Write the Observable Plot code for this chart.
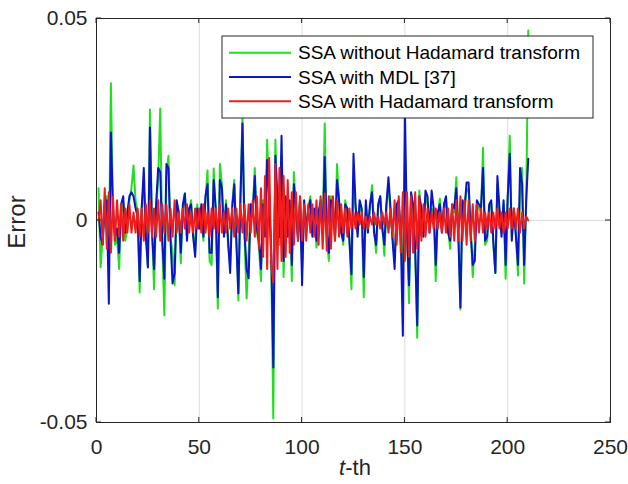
<!DOCTYPE html>
<html><head><meta charset="utf-8">
<script src="https://cdn.jsdelivr.net/npm/d3@7"></script>
<script src="https://cdn.jsdelivr.net/npm/@observablehq/plot@0.6"></script>
<style>body{margin:0;background:#fff}#chart{width:628px;height:484px}</style>
</head><body><div id="chart"></div>
<script>
const seriesNames = ["SSA without Hadamard transform", "SSA with MDL [37]", "SSA with Hadamard transform"];
const seriesColors = ["#22dd22", "#0a14c8", "#ee1c1c"];

// Error values for t = 1..210
const greenErr = [
 .008,-.0116,-.004,.003,.006,-.010,.034,.002,-.006,-.004,
 -.012,.002,.004,-.005,-.002,.005,.008,.0136,.005,.002,
 -.0178,.004,.009,-.003,-.0116,.0275,-.002,-.017,.003,.010,
 .0277,-.006,-.0235,.011,.016,-.004,-.008,-.016,.004,.002,
 -.0106,.003,.0067,-.004,.002,.005,-.003,-.007,.004,-.002,
 .003,-.005,.005,.0124,-.010,-.011,.0129,.002,-.0218,.014,
 .009,-.003,.005,-.006,-.011,.004,.010,-.004,-.0198,.006,
 .026,-.004,-.0193,-.008,.004,.003,.013,-.003,-.006,-.015,
 .005,-.003,.020,.006,-.010,-.049,.020,.004,-.006,.012,
 -.014,.005,-.003,.004,-.015,.012,.002,-.004,.006,-.012,
 .004,-.002,.003,.006,-.003,.002,-.0067,.001,.004,-.003,
 .024,-.004,-.010,.006,.003,-.005,.014,.004,-.002,-.006,
 .005,.002,-.004,-.017,.010,.003,-.003,.004,.002,-.019,
 .004,-.002,.003,.0087,-.002,-.008,.003,.006,-.001,-.0087,
 .003,.009,.002,-.004,-.010,.003,.004,-.003,-.012,.014,
 -.002,-.0205,.006,.003,-.008,-.029,.0074,.002,-.003,.006,
 .004,-.002,.003,.002,-.015,.001,.0054,-.002,.003,.005,
 -.002,-.007,.003,.002,.0107,-.003,-.022,.004,.002,.008,
 .007,-.002,-.014,-.006,.004,.003,.002,.018,-.006,-.005,
 .003,.004,-.006,-.013,.009,.002,-.003,.004,-.0144,.005,
 .021,-.004,.002,-.003,-.0136,.006,.013,-.0156,.004,.047
];
const blueErr = [
 .002,-.004,-.006,.004,.005,-.0206,.0218,.003,-.004,-.002,
 -.008,.004,.006,-.003,.002,.006,.007,.006,.003,.001,
 -.015,.003,.013,-.004,-.0116,.023,-.003,-.012,.004,.013,
 .012,-.005,-.0144,.014,.013,-.005,-.0156,-.013,.005,.002,
 -.008,.004,.0067,-.005,.003,.004,-.004,-.009,.003,-.002,
 .004,-.004,.006,.009,-.008,-.008,.010,.003,-.019,.010,
 .008,-.004,.004,-.005,-.013,.003,.009,-.005,-.018,.005,
 .024,-.003,-.012,-.0143,.004,.002,.011,-.002,-.005,-.012,
 .004,-.004,.015,.005,-.008,-.0364,.016,.005,-.004,.021,
 -.010,.006,-.004,.005,-.011,.009,.003,-.005,.005,-.016,
 .005,-.003,.003,.005,-.004,.003,-.005,.002,.005,-.004,
 .0157,-.003,-.008,.005,.004,-.004,.010,.005,-.003,-.005,
 .004,.003,-.005,-.0133,.0165,.004,-.004,.005,.003,-.014,
 .005,-.003,.004,.007,-.003,-.006,.004,.006,-.002,-.006,
 .004,.0107,.003,-.005,-.012,.004,.005,-.004,-.0285,.028,
 -.003,-.016,.007,.004,-.007,-.026,.006,.003,-.004,.0074,
 .006,-.003,.0074,.003,-.011,.002,.004,-.003,.004,.006,
 -.003,-.005,.004,.003,.008,-.004,-.0215,.005,.003,.0094,
 .0094,-.003,-.011,-.010,.005,.004,.003,.013,-.005,-.004,
 .004,.005,-.005,-.013,.011,.003,-.004,.005,-.011,.006,
 .0165,-.005,.003,-.004,-.011,.013,.009,-.011,.005,.0153
];
const redErr = [
 .000,.005,-.006,.008,-.007,.007,-.008,.006,-.005,.005,
 -.004,.004,-.005,.003,-.003,.004,-.003,.002,-.003,.003,
 -.004,.003,-.005,.004,-.003,.005,-.004,.003,-.004,.005,
 -.005,.004,-.003,.004,-.005,.003,-.004,.005,-.003,.002,
 -.003,.003,-.002,.004,-.003,.002,-.003,.003,-.002,.003,
 -.003,.004,-.003,.002,-.004,.003,-.002,.003,-.003,.004,
 -.003,.002,-.003,.003,-.002,.003,-.004,.003,-.003,.004,
 -.003,.004,-.005,.004,-.003,.005,-.004,.006,-.007,.008,
 -.009,.011,-.012,.0155,-.011,-.0153,.014,-.012,.013,-.010,
 .011,-.009,.010,-.008,.007,-.006,.007,-.005,.006,-.005,
 .004,-.005,.004,-.003,.004,-.004,.005,-.006,.006,-.007,
 .0067,-.0075,.006,-.007,.006,-.005,.005,-.004,.004,-.003,
 .003,-.004,.003,-.002,.002,-.002,.002,-.001,.002,-.002,
 .001,-.002,.001,-.001,.002,-.001,.001,-.002,.002,-.001,
 .002,-.003,.003,-.004,.005,-.006,.006,-.008,.007,-.010,
 .007,-.009,.006,-.008,.007,-.007,.006,-.005,.004,-.004,
 .003,-.003,.002,-.002,.003,-.002,.002,-.003,.003,-.003,
 .003,-.004,.004,-.005,.005,-.005,.006,-.005,.005,-.006,
 .005,-.005,.004,-.005,.004,-.003,.003,-.003,.002,-.002,
 .002,-.003,.002,-.002,.003,-.002,.002,-.003,.002,-.002,
 .003,-.002,.003,-.002,.003,-.003,.002,-.002,.001,.000
];
const xTicks = [0, 50, 100, 150, 200, 250];
const xTickLabels = ["0", "50", "100", "150", "200", "250"];
const yTicks = [-0.05, 0, 0.05];
const yTickLabels = ["-0.05", "0", "0.05"];

const FONT = '"Liberation Sans", Arial, Helvetica, sans-serif';
const INK = "#262626";
const rows = (arr) => arr.map((v, i) => ({t: i + 1, v}));

const chart = Plot.plot({
  width: 628, height: 484,
  marginLeft: 96, marginRight: 18, marginTop: 18, marginBottom: 62,
  style: {fontFamily: FONT, background: "#fff", color: INK},
  x: {domain: [xTicks[0], xTicks[xTicks.length - 1]]},
  y: {domain: [yTicks[0], yTicks[yTicks.length - 1]]},
  marks: [
    Plot.gridX(xTicks.slice(1, -1), {stroke: "#dcdcdc", strokeOpacity: 1}),
    Plot.gridY([0], {stroke: "#dcdcdc", strokeOpacity: 1}),
    Plot.line(rows(greenErr), {x: "t", y: "v", stroke: seriesColors[0], strokeWidth: 2}),
    Plot.line(rows(blueErr), {x: "t", y: "v", stroke: seriesColors[1], strokeWidth: 2}),
    Plot.line(rows(redErr), {x: "t", y: "v", stroke: seriesColors[2], strokeWidth: 2}),
    Plot.frame({stroke: INK, strokeWidth: 1}),
    Plot.axisX(xTicks, {tickSize: 0, tickPadding: 17, fontSize: 21, label: null,
      tickFormat: d => xTickLabels[xTicks.indexOf(d)]}),
    Plot.axisY(yTicks, {tickSize: 0, tickPadding: 9, fontSize: 21, label: null,
      tickFormat: d => yTickLabels[yTicks.indexOf(d)]})
  ]
});

const svg = d3.select(chart);
const sx = chart.scale("x"), sy = chart.scale("y");
const X = v => sx.apply(v), Y = v => sy.apply(v);
const xl = X(xTicks[0]), xr = X(xTicks[xTicks.length - 1]);
const yb = Y(yTicks[0]), yt = Y(yTicks[yTicks.length - 1]);
const TL = 5;
const tg = svg.append("g").attr("stroke", INK).attr("stroke-width", 1);
for (const v of xTicks) {
  tg.append("line").attr("x1", X(v)).attr("x2", X(v)).attr("y1", yb).attr("y2", yb - TL);
  tg.append("line").attr("x1", X(v)).attr("x2", X(v)).attr("y1", yt).attr("y2", yt + TL);
}
for (const v of yTicks) {
  tg.append("line").attr("y1", Y(v)).attr("y2", Y(v)).attr("x1", xl).attr("x2", xl + TL);
  tg.append("line").attr("y1", Y(v)).attr("y2", Y(v)).attr("x1", xr).attr("x2", xr - TL);
}

// axis titles
svg.append("text")
  .attr("transform", `translate(25,${(yb + yt) / 2 + 2}) rotate(-90)`)
  .attr("text-anchor", "middle").attr("font-size", 24).attr("fill", INK)
  .attr("font-family", FONT).text("Error");
const xt = svg.append("text")
  .attr("x", (xl + xr) / 2 + 2).attr("y", 475)
  .attr("text-anchor", "middle").attr("font-size", 22).attr("fill", INK)
  .attr("font-family", FONT);
xt.append("tspan").attr("font-style", "italic").text("t");
xt.append("tspan").text("-th");

// legend
const lg = svg.append("g").attr("font-family", FONT).attr("text-anchor", "start");
lg.append("rect").attr("x", 222).attr("y", 36).attr("width", 371).attr("height", 82)
  .attr("fill", "#ffffff").style("fill", "#ffffff").attr("fill-opacity", 1)
  .attr("stroke", INK).attr("stroke-width", 1);
seriesNames.forEach((n, i) => {
  const cy = 52.7 + 24.3 * i;
  lg.append("line").attr("x1", 229).attr("x2", 291).attr("y1", cy).attr("y2", cy)
    .attr("stroke", seriesColors[i]).attr("stroke-width", 2);
  lg.append("text").attr("x", 298).attr("y", cy).attr("dy", "0.35em")
    .attr("text-anchor", "start")
    .attr("font-size", 19).attr("fill", "#000").text(n);
});

document.getElementById("chart").appendChild(chart);
</script>
</body></html>
